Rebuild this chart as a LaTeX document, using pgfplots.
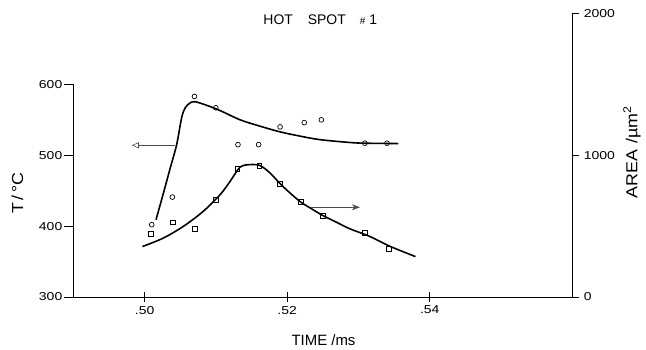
\documentclass[border=0pt]{standalone}
\usepackage{fontspec}
\setmainfont{Liberation Sans}
\newfontfamily\tickfont[FakeStretch=1.22]{Liberation Sans}
\newfontfamily\labfont[FakeStretch=1.12]{Liberation Sans}
\usepackage{pgfplots}
\usepackage{pgfplotstable}
\pgfplotsset{compat=1.18}
\usetikzlibrary{arrows.meta}

\pgfplotstableread{
x T
0.5010 402
0.5039 441
0.5070 583
0.5100 567
0.5131 515
0.5160 515
0.5190 540
0.5224 546
0.5248 550
0.5309 517
0.5340 517
}\Tpts

\pgfplotstableread{
x A
0.5009 446
0.5040 526
0.5071 479
0.5100 688
0.5130 906
0.5161 927
0.5190 800
0.5219 670
0.5250 575
0.5309 455
0.5343 340
}\Apts

\pgfplotstableread{
x T
0.5016 409
0.5026 445
0.5036 482
0.5045 515
0.5052 553
0.5057 567
0.5064 574
0.5071 575.5
0.5087 570.5
0.5106 563
0.5134 550
0.5162 541
0.5190 533
0.5218 527
0.5246 522
0.5288 518
0.5309 517
0.5356 516.5
}\Tfit

\pgfplotstableread{
x A
0.4997 356
0.5026 415
0.5054 497
0.5082 603
0.5106 722
0.5120 816
0.5134 916
0.5148 934
0.5162 927
0.5176 875
0.5190 800
0.5204 734
0.5219 670
0.5234 623
0.5250 575
0.5269 528
0.5288 481
0.5316 427
0.5344 358
0.5380 285
}\Afit

\begin{document}
\begin{tikzpicture}
\pgfplotsset{
  common/.style={
    scale only axis, width=499bp, height=283.5bp,
    xmin=0.49, xmax=0.56,
    tick label style={font=\tickfont\fontsize{11.5}{13}\selectfont},
    /pgf/number format/assume math mode=true,
    axis line style={-, line width=0.8pt, black},
    every tick/.style={line width=0.8pt, black},
    clip=false,
  },
}
\begin{axis}[common,
  ymin=300, ymax=700,
  axis x line*=bottom, axis y line*=left,
  y axis line style={-, shorten >=70.875bp},
  xtick={0.50,0.52,0.54}, xticklabels={.50,.52,.54},
  ytick={300,400,500,600}, yticklabels={300,400,500,600},
  xtick align=center, ytick align=outside,
  major tick length=9bp,
  xticklabel style={yshift=-1bp},
  yticklabel style={xshift=1.5bp},
]
\addplot[only marks, mark=o, mark size=2.4bp, mark options={line width=0.7pt}] table[x=x,y=T] {\Tpts};
\addplot[black, line width=1.6pt, smooth, tension=0.5] table[x=x,y=T] {\Tfit};
\draw[black!70, line width=0.6pt, -{Triangle[open, length=7bp, width=6bp]}] (axis cs:0.5043,514) -- (axis cs:0.4982,514);
\node[font=\fontsize{14}{16}\selectfont] at ([shift={(247bp,277bp)}]rel axis cs:0,0) {HOT\hspace{15bp}SPOT\hspace{14bp}{\fontsize{10}{10}\selectfont\#}\hspace{4bp}1};
\node[font=\fontsize{15}{17}\selectfont] at ([shift={(250.2bp,-43bp)}]rel axis cs:0,0) {TIME /ms};
\node[font=\labfont\fontsize{16}{18}\selectfont, rotate=90] at ([shift={(-55.8bp,104bp)}]rel axis cs:0,0) {T\,/\,°C};
\end{axis}
\begin{axis}[common,
  ymin=0, ymax=2000,
  axis y line*=right, axis x line=none,
  ytick={0,1000,2000}, yticklabels={0,1000,2000},
  ytick align=outside, major tick length=7bp,
  yticklabel style={xshift=1bp},
]
\addplot[only marks, mark=square, mark size=2.4bp, mark options={line width=0.7pt}] table[x=x,y=A] {\Apts};
\addplot[black, line width=1.6pt, smooth, tension=0.5] table[x=x,y=A] {\Afit};
\draw[black!70, line width=0.6pt, -{Stealth[length=8bp, width=6bp]}] (axis cs:0.5234,633) -- (axis cs:0.5302,633);
\node[font=\labfont\fontsize{16}{18}\selectfont, rotate=90] at ([shift={(558.7bp,145bp)}]rel axis cs:0,0) {AREA\hspace{6bp}/µm\textsuperscript{2}};
\end{axis}
\pgfresetboundingbox
\path ([shift={(-73.3bp,-53bp)}]current axis.south west) rectangle ([shift={(73.7bp,13.5bp)}]current axis.north east);
\end{tikzpicture}
\end{document}
